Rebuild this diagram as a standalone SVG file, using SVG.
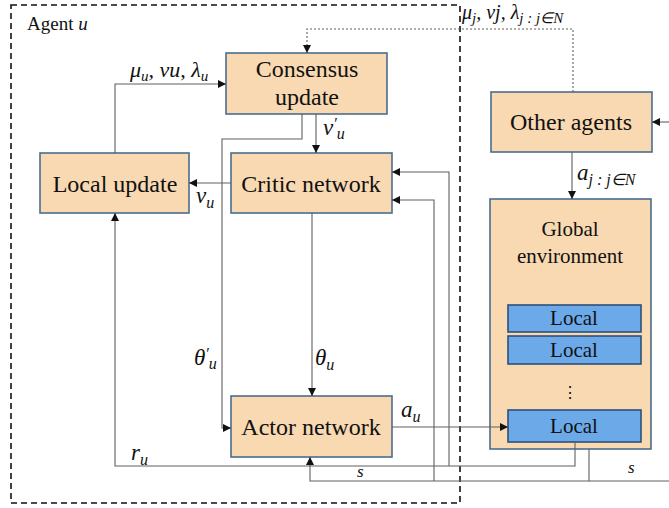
<svg xmlns="http://www.w3.org/2000/svg" width="669" height="508" viewBox="0 0 669 508">
<defs>
<marker id="ah" viewBox="0 0 10 10" refX="10" refY="5" markerWidth="8" markerHeight="8" markerUnits="userSpaceOnUse" orient="auto">
<path d="M0,0 L10,5 L0,10 z" fill="#111"/>
</marker>
</defs>
<style>
.box{fill:#F9D9B1;stroke:#4A6D8F;stroke-width:1.6}
.loc{fill:#6CA9E8;stroke:#2E4F7A;stroke-width:1.6}
text{font-family:'Liberation Serif','Times New Roman',serif;fill:#111}
.t{text-anchor:middle}
.m{font-style:italic}
.ln{fill:none;stroke:#606060;stroke-width:1.1}
.ar{marker-end:url(#ah)}
</style>
<rect width="669" height="508" fill="#fff"/>
<g id="agent-frame">
<path d="M11,5 H460 V503 H11 Z" fill="none" stroke="#111" stroke-width="1.6" stroke-dasharray="6,4"/>
<text x="27" y="30" font-size="19">Agent <tspan font-style="italic">u</tspan></text>
</g>
<g id="consensus-update">
<rect class="box" x="226" y="53" width="161" height="61"/>
<text class="t" x="307" y="77" font-size="24">Consensus</text>
<text class="t" x="307" y="105" font-size="24">update</text>
</g>
<g id="critic-network">
<rect class="box" x="231" y="153" width="161" height="60"/>
<text class="t" x="311" y="192" font-size="24">Critic network</text>
</g>
<g id="local-update">
<rect class="box" x="40" y="153" width="149" height="60"/>
<text class="t" x="115" y="192" font-size="24">Local update</text>
</g>
<g id="actor-network">
<rect class="box" x="231" y="396" width="161" height="61"/>
<text class="t" x="311" y="435" font-size="24">Actor network</text>
</g>
<g id="other-agents">
<rect class="box" x="491" y="92" width="161" height="60"/>
<text class="t" x="571" y="130" font-size="24">Other agents</text>
</g>
<g id="global-environment">
<rect class="box" x="490" y="199" width="161" height="250"/>
<text class="t" x="570" y="236" font-size="21">Global</text>
<text class="t" x="570" y="263" font-size="21">environment</text>
<text class="t" x="570" y="398" font-size="16">⋮</text>
</g>
<g id="local-1">
<rect class="loc" x="508" y="305" width="133" height="27"/>
<text class="t" x="574" y="325" font-size="21">Local</text>
</g>
<g id="local-2">
<rect class="loc" x="508" y="336" width="133" height="28"/>
<text class="t" x="574" y="357" font-size="21">Local</text>
</g>
<g id="local-3">
<rect class="loc" x="508" y="410" width="133" height="32"/>
<text class="t" x="574" y="433" font-size="21">Local</text>
</g>
<g id="connectors">
<path class="ln ar" d="M115,153 V84 H226"/>
<path class="ln ar" d="M573,92 V29 H307 V53" stroke="#777" stroke-dasharray="2,2"/>
<path class="ln ar" d="M316,114 V153"/>
<path class="ln ar" d="M302,114 V139 H222 V428 H231"/>
<path class="ln ar" d="M231,183 H189"/>
<path class="ln ar" d="M312,213 V396"/>
<path class="ln ar" d="M392,427 H508"/>
<path class="ln ar" d="M575,442 V466 H115 V213"/>
<path class="ln ar" d="M449,466 V172 H392"/>
<path class="ln ar" d="M589,449 V481 H310 V457"/>
<path class="ln ar" d="M434,481 V200 H392"/>
<path class="ln" d="M589,481 H669"/>
<path class="ln ar" d="M669,122 H652"/>
<path class="ln ar" d="M572,152 V199"/>
<text class="m" x="130" y="77" font-size="22">μ<tspan font-size="15" dy="4">u</tspan><tspan dy="-4">, vu, λ</tspan><tspan font-size="15" dy="4">u</tspan></text>
<text class="m" x="462" y="19" font-size="20">μ<tspan font-size="15" dy="4">j</tspan><tspan dy="-4">, vj, λ</tspan><tspan font-size="15" dy="4">j : j∈N</tspan></text>
<text class="m" x="323" y="135" font-size="23">v<tspan font-size="16" dy="-6">′</tspan><tspan font-size="16" dy="10">u</tspan></text>
<text class="m" x="196" y="203" font-size="23">v<tspan font-size="16" dy="5">u</tspan></text>
<text class="m" x="194" y="365" font-size="23">θ<tspan font-size="16" dy="-6">′</tspan><tspan font-size="16" dy="10">u</tspan></text>
<text class="m" x="315" y="365" font-size="23">θ<tspan font-size="16" dy="5">u</tspan></text>
<text class="m" x="401" y="417" font-size="23">a<tspan font-size="16" dy="5">u</tspan></text>
<text class="m" x="131" y="460" font-size="23">r<tspan font-size="16" dy="5">u</tspan></text>
<text class="m" x="577" y="180" font-size="23">a<tspan font-size="16" dy="5">j : j∈N</tspan></text>
<text class="m" x="357" y="477" font-size="17">s</text>
<text class="m" x="628" y="473" font-size="17">s</text>
</g>
</svg>
